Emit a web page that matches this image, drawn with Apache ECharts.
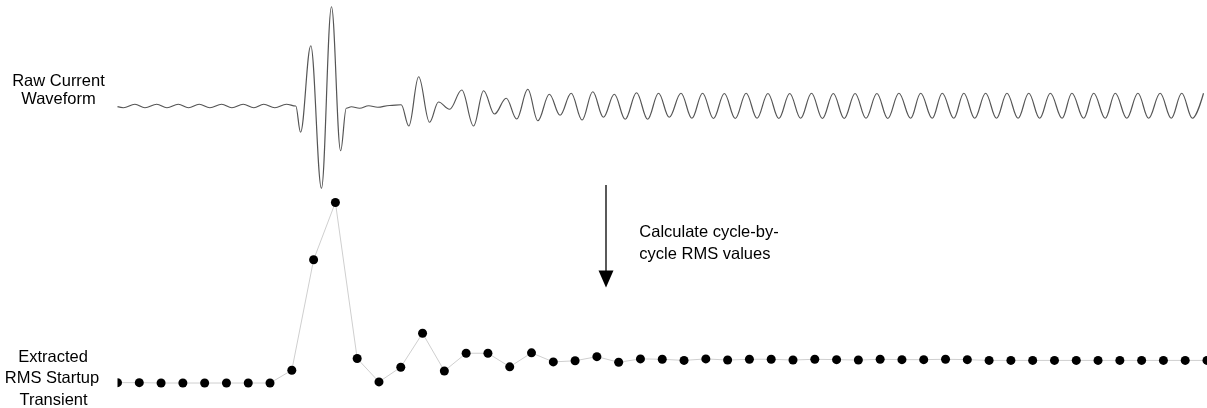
<!DOCTYPE html>
<html><head><meta charset="utf-8">
<script src="https://cdn.jsdelivr.net/npm/echarts@6/dist/echarts.min.js"></script>
<style>html,body{margin:0;padding:0;background:#fff}#c{width:1207px;height:408px}</style>
</head><body><div id="c"></div>
<script>
// cycle index for the RMS points
const cycles = [0,1,2,3,4,5,6,7,8,9,10,11,12,13,14,15,16,17,18,19,20,21,22,23,24,25,26,27,28,29,30,31,32,33,34,35,36,37,38,39,40,41,42,43,44,45,46,47,48,49,50];
// cycle-by-cycle RMS values
const rmsValues = [0.11,0.11,0.10,0.10,0.10,0.10,0.10,0.10,0.44,3.37,4.89,0.75,0.13,0.52,1.42,0.42,0.89,0.89,0.53,0.90,
  0.66,0.69,0.80,0.65,0.74,0.73,0.70,0.74,0.71,0.73,0.73,0.71,0.73,0.72,0.71,0.73,0.72,0.72,0.73,0.72,
  0.70,0.70,0.70,0.70,0.70,0.70,0.70,0.70,0.70,0.70,0.70];
// raw waveform: time (in cycles) of read turning points
const waveT = [0.00,0.27,0.80,1.26,1.80,2.27,2.79,3.26,3.75,4.24,4.78,5.25,5.77,6.26,6.71,7.22,7.75,8.18,
  8.40,8.87,9.36,9.82,10.24,10.50,10.73,11.11,11.53,11.94,12.49,13.02,
  13.37,13.82,14.32,14.73,15.24,15.80,16.34,16.80,17.30,17.84,18.32,18.83,19.29,19.82,20.31,20.82,21.32,21.81,22.30,22.80,23.30,23.82,24.33,24.83,25.32,25.86,26.36,
  26.85,27.35,27.85,28.35,28.85,29.35,29.85,30.35,30.85,31.35,31.85,32.35,32.85,33.35,33.85,34.35,34.85,35.35,35.86,
  36.40,36.86,37.39,37.85,38.38,38.84,39.34,39.84,40.34,40.82,41.33,41.82,42.32,42.81,43.35,43.80,44.34,44.80,45.33,45.79,46.32,46.83,47.32,47.85,48.36,48.84,49.33,49.84];
// raw waveform: current at those points
const waveI = [-0.05,-0.14,0.14,-0.14,0.14,-0.14,0.14,-0.14,0.14,-0.14,0.14,-0.14,0.14,-0.14,0.14,-0.14,0.14,0.00,
  -2.10,4.82,-6.58,7.94,-3.58,-0.18,-0.06,-0.18,0.02,-0.10,0.04,0.10,
  -1.60,2.34,-1.30,0.32,-0.26,1.28,-1.60,1.22,-0.64,0.62,-1.04,1.34,-1.18,0.94,-0.74,1.02,-1.12,1.14,-0.90,0.94,-1.06,1.06,-1.06,1.02,-0.90,1.02,-0.98,
  1.02,-1.00,1.00,-1.00,1.02,-0.98,1.00,-1.00,1.00,-0.98,1.02,-1.00,1.00,-1.00,1.00,-0.98,1.00,-1.00,1.02,
  -0.98,1.02,-0.98,1.02,-0.98,1.02,-0.98,1.02,-0.98,1.02,-0.98,1.02,-0.98,1.02,-0.98,1.02,-0.98,1.02,-0.98,1.02,-0.98,1.02,-0.98,1.02,-0.98,1.02,-0.98,1.02];

const FONT = '16.5px "Liberation Sans", Arial, sans-serif';
function txt(s, x, y, align) {
  return {type:'text', z:100, style:{text:s, x:x, y:y, font:FONT, fill:'#000', textAlign:align||'center', textVerticalAlign:'middle'}};
}
const chart = echarts.init(document.getElementById('c'), null, {renderer:'canvas'});
chart.setOption({
  animation:false,
  backgroundColor:'#fff',
  grid:[
    {left:117.5, width:1091, top:6, height:200},
    {left:117.5, width:1091, top:198.3, height:188.5}
  ],
  xAxis:[
    {gridIndex:0, type:'value', min:0, max:50, show:false},
    {gridIndex:1, type:'value', min:0, max:50, show:false}
  ],
  yAxis:[
    {gridIndex:0, type:'value', min:-8, max:8, show:false},
    {gridIndex:1, type:'value', min:0, max:5, show:false}
  ],
  series:[
    {type:'line', xAxisIndex:0, yAxisIndex:0, silent:true, smooth:0.37, smoothMonotone:'x',
     showSymbol:false, symbol:'none', lineStyle:{color:'#555', width:1.2},
     data: waveT.map((t,i)=>[t, waveI[i]])},
    {type:'line', xAxisIndex:1, yAxisIndex:1, silent:true, symbol:'circle', symbolSize:9,
     itemStyle:{color:'#000'}, lineStyle:{color:'#cfcfcf', width:1}, z:5,
     data: cycles.map((c,i)=>[c, rmsValues[i]])}
  ],
  graphic:[
    {type:'rect', z:100, shape:{x:107, y:376, width:10.5, height:14}, style:{fill:'#fff'}},
    txt('Raw Current', 58.5, 81),
    txt('Waveform', 58.5, 99),
    txt('Extracted', 53, 357),
    txt('RMS Startup', 52, 378),
    txt('Transient', 53.5, 400.5),
    txt('Calculate cycle-by-', 639.3, 232, 'left'),
    txt('cycle RMS values', 639.3, 254, 'left'),
    {type:'line', z:100, shape:{x1:606, y1:185, x2:606, y2:272}, style:{stroke:'#000', lineWidth:1.3}},
    {type:'polygon', z:100, shape:{points:[[598.5,270.5],[613.5,270.5],[606,287.5]]}, style:{fill:'#000'}}
  ]
});
</script></body></html>
